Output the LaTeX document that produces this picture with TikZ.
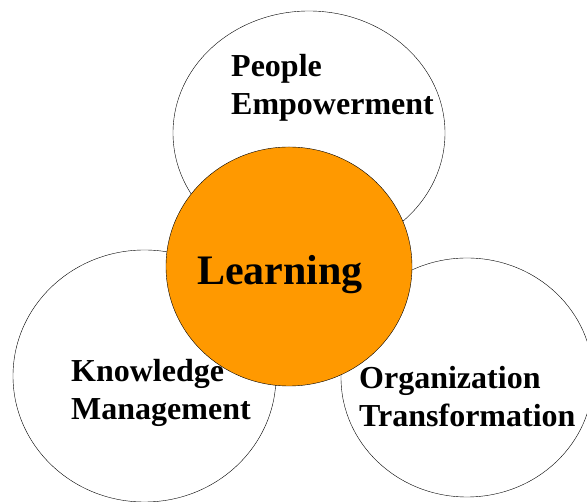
\documentclass[tikz,border=0pt]{standalone}
\usepackage{fontspec}
\setmainfont{Liberation Serif}
\usepackage{tikz}
\usetikzlibrary{shapes.geometric,positioning}
\definecolor{learnorange}{RGB}{255,153,0}
\tikzset{
    x=1pt,y=1pt,line width=1pt,
    area/.style ={ellipse, draw, fill=white, inner sep=0pt},
    hub/.style ={ellipse, draw, fill=learnorange, inner sep=0pt},
    lbl/.style = {inner sep=0pt, align=left, anchor=base west, font=\bfseries\fontsize{32}{38}\selectfont},
    biglbl/.style = {inner sep=0pt, anchor=base west, font=\bfseries\fontsize{42}{50}\selectfont}
}
\begin{document}
\begin{tikzpicture}
    \useasboundingbox (0,0) rectangle (587,502);
    \node[area, minimum width=272, minimum height=244] (pe) at (309,369) {};
     \node[area, minimum width=263, minimum height=252] (km) at (144.5,126) {};
       \node[area, minimum width=252, minimum height=239] (ot) at (467,124.5) {};
      \node[hub, minimum width=246, minimum height=239] (learn) at (289,235.5) {};

      \node[lbl] (pet) at (231,387) {People\\Empowerment};
       \node[lbl] (kmt) at (71,82) {Knowledge\\Management};
       \node[lbl] (ott) at (359,75) {Organization\\Transformation};
        \node[biglbl] (learnt) at (197,217) {Learning};

\end{tikzpicture}
\end{document}
